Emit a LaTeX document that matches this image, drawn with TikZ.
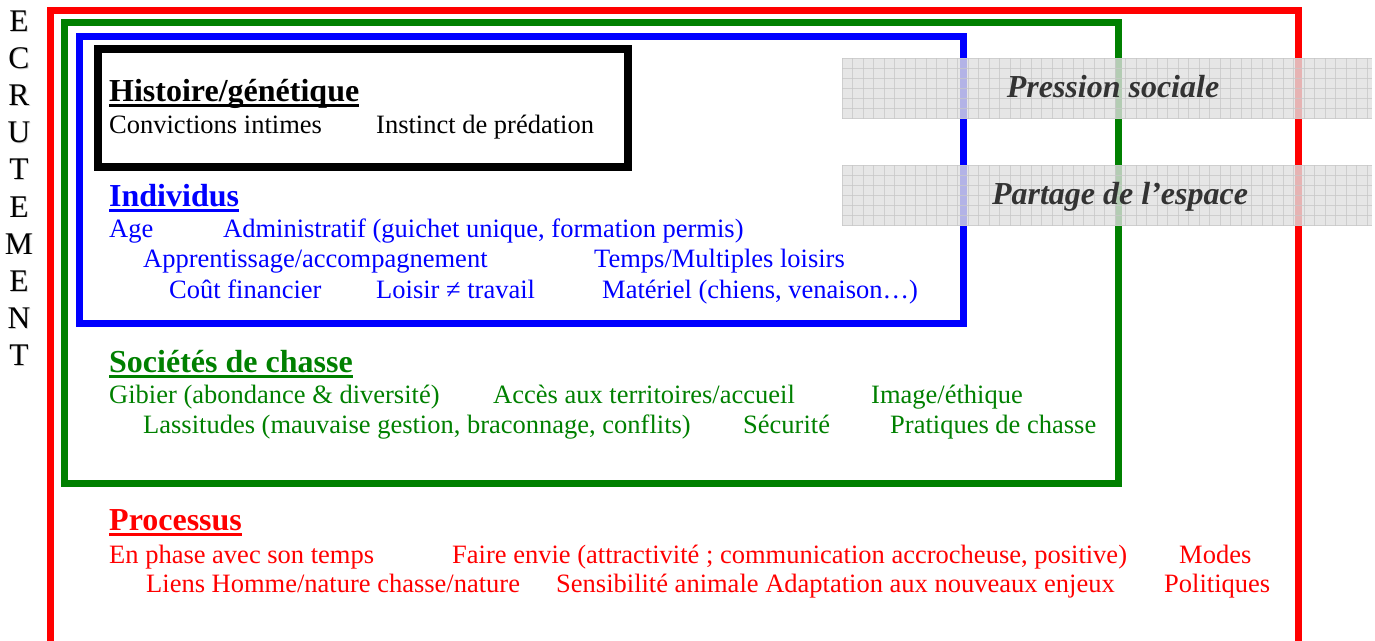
\documentclass[tikz,border=0pt]{standalone}
\usepackage{fontspec}
\setmainfont{Liberation Serif}
\definecolor{fred}{RGB}{255,0,0}
\definecolor{fgreen}{RGB}{0,128,0}
\definecolor{fblue}{RGB}{0,0,255}
\definecolor{bandfill}{RGB}{224,224,224}
\definecolor{bandgrid}{RGB}{200,200,200}
\definecolor{bandtext}{RGB}{51,51,51}
\tikzset{
  frame/.style={line width=7pt, line join=miter},
  body/.style={anchor=base west, inner sep=0pt, font=\fontsize{26.5}{30}\selectfont},
  heading/.style={anchor=base west, inner sep=0pt, font=\fontsize{32}{36}\selectfont\bfseries},
  uline/.style={line width=3pt},
  bandlabel/.style={anchor=base, inner sep=0pt, text=bandtext,
    font=\fontsize{32}{36}\selectfont\bfseries\itshape},
  sidechar/.style={anchor=base, inner sep=0pt, font=\fontsize{31.5}{34}\selectfont},
  sideshadow/.style={sidechar, text=black!22},
}
\begin{document}
\begin{tikzpicture}[x=1pt,y=-1pt]
\useasboundingbox (0,0) rectangle (1375,640);
\clip (0,0) rectangle (1375,640);

% nested frames
\draw[frame, fred] (50.5,650) -- (50.5,10.5) -- (1298.5,10.5) -- (1298.5,650);
\draw[frame, fgreen] (64.5,22.5) rectangle (1118.5,483.5);
\draw[frame, fblue] (79.5,36.5) rectangle (963.5,323.5);
\draw[line width=8pt, black] (98,49) rectangle (627.5,167);

% vertical word on the left
\foreach \ch [count=\i from 0] in {E,C,R,U,T,E,M,E,N,T}{
  \node[sideshadow] (sh\i) at (19.8,{32.3+37.1*\i}) {\ch};
  \node[sidechar] (ch\i) at (19,{31.5+37.1*\i}) {\ch};
}

% Histoire / génétique
\node[heading] (hist) at (109,101) {Histoire/génétique};
\draw[uline] ([yshift=-4.5pt]hist.base west) -- ([yshift=-4.5pt]hist.base east);
\node[body] (conv) at (109,133) {Convictions intimes};
\node[body] (inst) at (376,133) {Instinct de prédation};

% Individus
\begin{scope}[fblue, text=fblue]
\node[heading] (indiv) at (109,206) {Individus};
\draw[uline] ([yshift=-4.5pt]indiv.base west) -- ([yshift=-4.5pt]indiv.base east);
\node[body] (age) at (109,237) {Age};
\node[body] (admin) at (223,237) {Administratif (guichet unique, formation permis)};
\node[body] (appr) at (143,267) {Apprentissage/accompagnement};
\node[body] (temps) at (594,267) {Temps/Multiples loisirs};
\node[body] (cout) at (169,298) {Coût financier};
\node[body] (loisir) at (376,298) {Loisir ≠ travail};
\node[body] (mat) at (602,298) {Matériel (chiens, venaison…)};
\end{scope}

% Sociétés de chasse
\begin{scope}[fgreen, text=fgreen]
\node[heading] (soc) at (109,372) {Sociétés de chasse};
\draw[uline] ([yshift=-4.5pt]soc.base west) -- ([yshift=-4.5pt]soc.base east);
\node[body] (gib) at (109,403) {Gibier (abondance \& diversité)};
\node[body] (acces) at (493,403) {Accès aux territoires/accueil};
\node[body] (image) at (871,403) {Image/éthique};
\node[body] (lass) at (143,433) {Lassitudes (mauvaise gestion, braconnage, conflits)};
\node[body] (secu) at (743,433) {Sécurité};
\node[body] (prat) at (890,433) {Pratiques de chasse};
\end{scope}

% Processus
\begin{scope}[fred, text=fred]
\node[heading] (proc) at (109,530) {Processus};
\draw[uline] ([yshift=-4.5pt]proc.base west) -- ([yshift=-4.5pt]proc.base east);
\node[body] (phase) at (109,563) {En phase avec son temps};
\node[body] (faire) at (452,563) {Faire envie (attractivité ; communication accrocheuse, positive)};
\node[body] (modes) at (1179,563) {Modes};
\node[body] (liens) at (146,592) {Liens Homme/nature chasse/nature};
\node[body] (sensi) at (556,592) {Sensibilité animale Adaptation aux nouveaux enjeux};
\node[body] (polit) at (1164,592) {Politiques};
\end{scope}

% translucent gridded bands
\foreach \top in {58,165}{
  \begin{scope}[opacity=0.8]
    \fill[bandfill] (842,\top) rectangle (1372,{\top+61});
    \foreach \gx in {842,852.5,...,1372}
      \draw[bandgrid, line width=0.8pt] (\gx,\top) -- (\gx,{\top+61});
    \foreach \gy in {0,10,...,60}
      \draw[bandgrid, line width=0.8pt] (842,{\top+\gy}) -- (1372,{\top+\gy});
  \end{scope}
}
\node[bandlabel] (press) at (1113,97) {Pression sociale};
\node[bandlabel] (partage) at (1120,204) {Partage de l’espace};
\end{tikzpicture}
\end{document}
